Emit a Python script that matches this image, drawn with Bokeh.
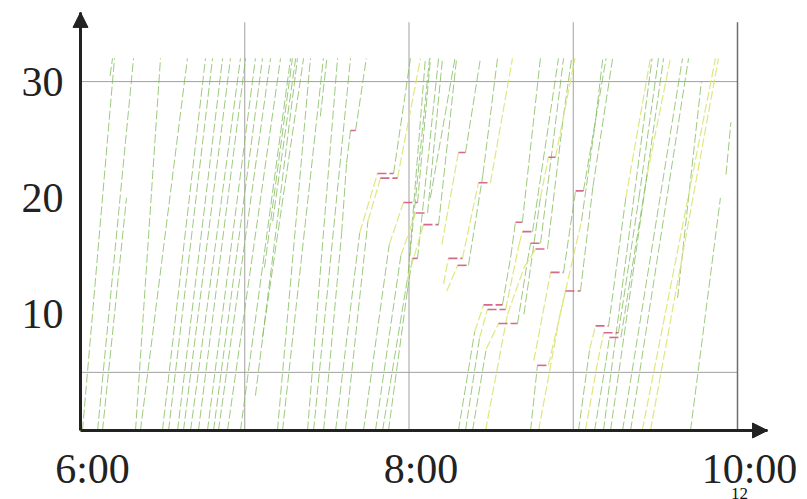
from bokeh.plotting import figure
from bokeh.models import Range1d, FixedTicker, Arrow, NormalHead, ColumnDataSource
from bokeh.embed import file_html
from bokeh.resources import INLINE

# ---------------- data (hour of day, km) ----------------
y_ticks = [10, 20, 30]
x_tick_hours = [6, 8, 10]
x_tick_labels = ["6:00", "8:00", "10:00"]
grid_hours = [7, 8, 9]
grid_km = [5, 30]
border_hour = 10
grid_top_km = 35.1
axis_top_km = 35.95
axis_end_hour = 10.183
page_number = "12"

early_tracks = [
    [(6.180, 30.5), (6.195, 32.0)],
    [(6.012, 0.0), (6.207, 32.0)],
    [(6.104, 0.0), (6.323, 32.0)],
    [(6.134, 0.0), (6.280, 20.0)],
    [(6.335, 0.0), (6.487, 32.0)],
    [(6.365, 0.0), (6.651, 32.0)],
    [(6.499, 0.0), (6.761, 32.0)],
    [(6.536, 0.0), (6.804, 32.0)],
    [(6.591, 0.0), (6.865, 32.0)],
    [(6.627, 0.0), (6.913, 32.0)],
    [(6.670, 0.0), (6.974, 32.0)],
    [(6.718, 0.0), (7.005, 32.0)],
    [(6.773, 0.0), (7.065, 32.0)],
    [(6.810, 0.0), (7.108, 32.0)],
    [(6.840, 0.0), (7.157, 32.0)],
    [(6.895, 0.0), (7.218, 32.0)],
    [(6.974, 0.0), (7.279, 32.0)],
    [(7.065, 3.0), (7.321, 32.0)],
    [(7.108, 8.0), (7.358, 32.0)],
    [(7.120, 14.0), (7.290, 32.0)],
    [(7.170, 18.0), (7.310, 32.0)],
    [(7.199, 0.0), (7.400, 32.0)],
    [(7.230, 0.0), (7.479, 32.0)],
    [(7.382, 0.0), (7.565, 32.0)],
    [(7.419, 0.0), (7.644, 32.0)],
    [(7.460, 27.0), (7.500, 32.0)],
]

queue_0745 = [
    [(7.480, 0.0), (7.590, 17.0), (7.620, 23.0), (7.644, 25.8), (7.675, 25.8), (7.740, 32.0)],
    [(7.553, 0.0), (7.700, 17.0), (7.808, 22.1), (7.906, 22.1), (8.009, 32.0)],
    [(7.613, 0.0), (7.750, 18.0), (7.826, 21.7), (7.930, 21.7), (8.070, 32.0)],
    [(7.723, 0.0), (7.880, 16.0), (7.966, 19.6), (8.052, 19.6), (8.131, 32.0)],
    [(7.796, 0.0), (7.950, 15.0), (8.040, 18.7), (8.113, 18.7), (8.204, 32.0)],
    [(7.839, 0.0), (7.990, 13.0), (8.088, 17.7), (8.180, 17.7), (8.290, 32.0)],
    [(7.875, 0.0), (7.990, 12.0), (8.021, 14.8), (8.052, 14.8), (8.180, 32.0)],
    [(7.995, 13.5), (8.100, 32.0)],
    [(8.005, 15.0), (8.125, 32.0)],
]

queue_0815 = [
    [(8.210, 12.6), (8.240, 14.8), (8.325, 14.8), (8.423, 21.3), (8.496, 21.3), (8.630, 32.0)],
    [(8.230, 12.0), (8.296, 14.2), (8.362, 14.2), (8.450, 22.0), (8.539, 32.0)],
    [(8.200, 16.0), (8.301, 23.9), (8.344, 23.9), (8.435, 32.0)],
    [(8.130, 20.0), (8.280, 32.0)],
]

queue_0830 = [
    [(8.301, 0.0), (8.400, 8.5), (8.454, 10.8), (8.569, 10.8), (8.620, 15.0),
     (8.648, 17.9), (8.690, 17.9), (8.800, 32.0)],
    [(8.344, 0.0), (8.430, 8.0), (8.478, 10.4), (8.588, 10.4), (8.670, 16.0),
     (8.691, 17.1), (8.752, 17.1), (8.910, 32.0)],
    [(8.387, 0.0), (8.470, 7.0), (8.545, 9.2), (8.661, 9.2), (8.720, 14.5),
     (8.740, 16.1), (8.801, 16.1), (8.941, 32.0)],
    [(8.466, 0.0), (8.600, 10.0), (8.700, 14.0), (8.770, 15.6), (8.843, 15.6),
     (8.940, 27.0), (8.990, 32.0)],
]

queue_0850 = [
    [(8.740, 0.0), (8.782, 5.6), (8.849, 5.6), (8.953, 12.0), (9.044, 12.0),
     (9.120, 21.0), (9.240, 32.0)],
    [(8.760, 6.0), (8.862, 13.6), (8.941, 13.6), (9.014, 20.6), (9.062, 20.6), (9.200, 32.0)],
    [(8.700, 10.0), (8.800, 20.0), (8.849, 23.5), (8.892, 23.5), (9.010, 32.0)],
    [(8.789, 0.0), (8.920, 10.0), (9.050, 18.0), (9.130, 26.0), (9.180, 32.0)],
]

queue_0910 = [
    [(9.032, 0.0), (9.100, 7.0), (9.136, 9.0), (9.215, 9.0), (9.320, 20.0), (9.470, 32.0)],
    [(9.074, 0.0), (9.150, 6.0), (9.185, 8.4), (9.275, 8.4), (9.400, 20.0), (9.519, 32.0)],
    [(9.130, 0.0), (9.200, 6.0), (9.220, 8.0), (9.290, 8.0), (9.450, 22.0), (9.592, 32.0)],
]

late_tracks = [
    [(9.184, 0.0), (9.480, 32.0)],
    [(9.227, 0.0), (9.550, 32.0)],
    [(9.300, 0.0), (9.665, 32.0)],
    [(9.349, 0.0), (9.702, 32.0)],
    [(9.420, 0.0), (9.866, 32.0)],
    [(9.470, 0.0), (9.884, 32.0)],
    [(9.714, 0.0), (9.896, 20.0)],
    [(9.930, 22.0), (9.960, 26.5)],
    [(9.635, 11.4), (9.780, 30.0)],
]

all_groups = [early_tracks, queue_0745, queue_0815, queue_0830,
              queue_0850, queue_0910, late_tracks]

# ---------------- figure ----------------
PX_PER_H = 164.25
PX_PER_KM = 11.63
W, H = 807, 499
X0_PX, Y0_PX = 80, 430          # where 6:00 / 0 km sit on the canvas
x_lo = 6 - X0_PX / PX_PER_H
x_hi = 6 + (W - X0_PX) / PX_PER_H
y_hi = Y0_PX / PX_PER_KM
y_lo = -(H - Y0_PX) / PX_PER_KM

p = figure(width=W, height=H, output_backend="svg", toolbar_location=None,
           x_range=Range1d(x_lo, x_hi), y_range=Range1d(y_lo, y_hi),
           min_border=0)
p.outline_line_color = None
p.xgrid.visible = False
p.ygrid.visible = False
p.background_fill_color = "white"
p.border_fill_color = "white"

AX = "#222222"
for ax in (p.xaxis, p.yaxis):
    ax.axis_line_width = 3
    ax.axis_line_color = AX
    ax.major_tick_line_color = None
    ax.minor_tick_line_color = None
    ax.major_tick_in = 0
    ax.major_tick_out = 0
    ax.minor_tick_in = 0
    ax.minor_tick_out = 0
    ax.major_label_text_font = "Liberation Serif"
    ax.major_label_text_font_size = "42px"
    ax.major_label_text_color = AX

p.yaxis.fixed_location = 6
p.yaxis.bounds = (0, axis_top_km)
p.yaxis.ticker = FixedTicker(ticks=y_ticks)
p.yaxis.major_label_standoff = 17

LABEL_SHIFT_H = 12 / PX_PER_H     # labels sit a little right of their hour
shifted = [h + LABEL_SHIFT_H for h in x_tick_hours]
p.xaxis.fixed_location = 0
p.xaxis.bounds = (6, axis_end_hour)
p.xaxis.ticker = FixedTicker(ticks=shifted)
p.xaxis.major_label_overrides = {t: lab for t, lab in zip(shifted, x_tick_labels)}
p.xaxis.major_label_standoff = 15

# grid / border lines
p.segment(x0=grid_hours, y0=[0] * len(grid_hours), x1=grid_hours,
          y1=[grid_top_km] * len(grid_hours), line_color="#a0a0a0", line_width=1)
p.segment(x0=[6] * len(grid_km), y0=grid_km, x1=[border_hour] * len(grid_km),
          y1=grid_km, line_color="#a0a0a0", line_width=1)
p.segment(x0=[border_hour], y0=[0], x1=[border_hour], y1=[grid_top_km],
          line_color="#6e6e6e", line_width=1.5)

# trajectories coloured by speed
segs = {k: dict(x0=[], y0=[], x1=[], y1=[]) for k in ("green", "yellow", "red")}
for group in all_groups:
    for tr in group:
        for (t0, k0), (t1, k1) in zip(tr[:-1], tr[1:]):
            v = (k1 - k0) / (t1 - t0)
            cls = "red" if v < 15 else ("yellow" if v < 80 else "green")
            d = segs[cls]
            d["x0"].append(t0); d["y0"].append(k0)
            d["x1"].append(t1); d["y1"].append(k1)

styles = {
    "green": dict(line_color="#84bd5f", line_width=1.0, line_alpha=0.8),
    "yellow": dict(line_color="#dde679", line_width=1.2, line_alpha=0.95),
    "red": dict(line_color="#cf5a7e", line_width=1.6, line_alpha=0.9),
}
for cls in ("green", "yellow", "red"):
    src = ColumnDataSource(segs[cls])
    p.segment(x0="x0", y0="y0", x1="x1", y1="y1", source=src,
              line_dash="9 3", **styles[cls])

# axis arrows
p.add_layout(Arrow(end=NormalHead(size=15, fill_color=AX, line_color=AX, line_width=1),
                   x_start=6, y_start=34.5, x_end=6, y_end=axis_top_km,
                   line_color=AX, line_width=3))
p.add_layout(Arrow(end=NormalHead(size=15, fill_color=AX, line_color=AX, line_width=1),
                   x_start=10.0, y_start=0, x_end=axis_end_hour, y_end=0,
                   line_color=AX, line_width=3))

# page number under the last label, kept small so it stays inside the page
p.text(x=[border_hour], y=[0], text=[page_number], x_offset=2, y_offset=63,
       text_align="center", text_baseline="alphabetic",
       text_font="Liberation Serif", text_font_size="17px", text_color="#111111")

open("out.html", "w").write(file_html(p, INLINE))
